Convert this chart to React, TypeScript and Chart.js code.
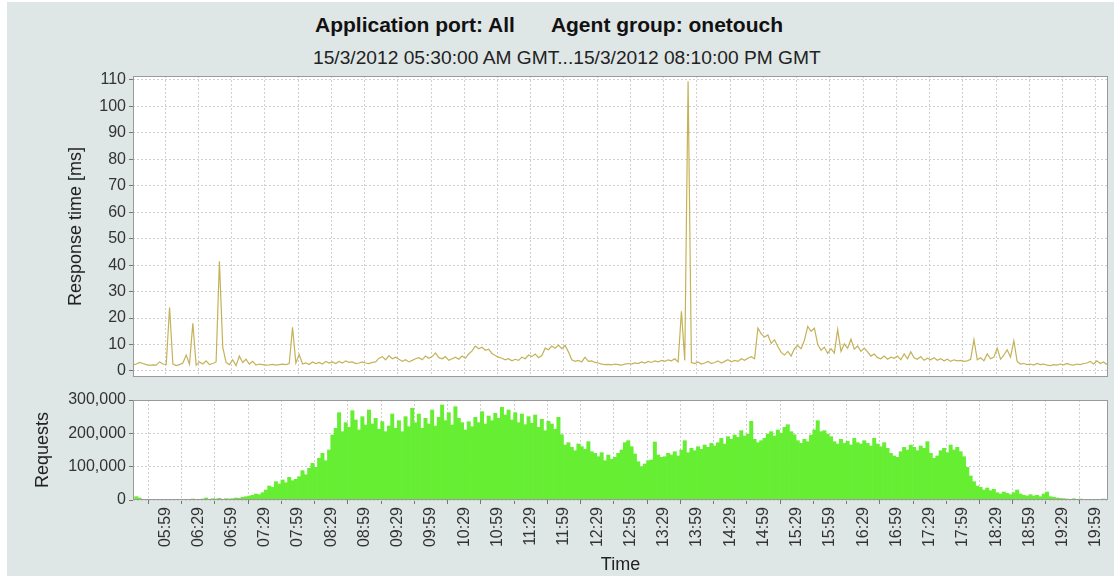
import React, { useEffect, useRef } from "react";
import { Chart, registerables } from "chart.js";

Chart.register(...registerables);

const TITLE_LEFT = "Application port: All";
const TITLE_RIGHT = "Agent group: onetouch";
const SUBTITLE = "15/3/2012 05:30:00 AM GMT...15/3/2012 08:10:00 PM GMT";
const START_TIME = "05:30";
const END_TIME = "20:10";
const SAMPLE_STEP_MIN = 3;

const TICK_LABELS = [
  "05:59", "06:29", "06:59", "07:29", "07:59", "08:29", "08:59", "09:29", "09:59", "10:29",
  "10:59", "11:29", "11:59", "12:29", "12:59", "13:29", "13:59", "14:29", "14:59", "15:29",
  "15:59", "16:29", "16:59", "17:29", "17:59", "18:29", "18:59", "19:29", "19:59",
];

const RESPONSE_TICKS = [0, 10, 20, 30, 40, 50, 60, 70, 80, 90, 100, 110];
const REQUEST_TICKS = [0, 100000, 200000, 300000];

const RESPONSE_MS = [
  2.3, 2.6, 3.2, 2.8, 2.4, 2.1, 2.3, 2.2, 3.4, 2.6,
  2.4, 24, 2.6, 2.0, 2.4, 3.0, 6.0, 2.5, 18, 2.2,
  3.4, 2.6, 3.8, 2.4, 2.8, 3.4, 41.5, 9.0, 3.2, 2.4,
  4.2, 2.0, 5.6, 3.2, 4.4, 2.6, 3.6, 2.2, 2.6, 2.4,
  2.2, 2.3, 2.5, 2.2, 2.4, 2.6, 2.4, 2.8, 16.5, 3.0,
  6.2, 2.6, 3.0, 2.4, 3.4, 2.8, 3.2, 2.6, 3.6, 3.0,
  3.4, 2.8, 3.6, 3.0, 3.8, 3.2, 3.4, 2.8, 3.0, 3.4,
  3.0, 2.8, 3.2, 3.4, 4.8, 5.4, 4.2, 5.8, 4.6, 5.2,
  4.4, 3.6, 4.2, 3.4, 4.0, 4.6, 5.0, 4.2, 5.6, 4.8,
  5.4, 6.8, 5.0, 4.6, 5.4, 4.0, 4.6, 5.2, 4.4, 5.6,
  4.8, 6.4, 7.6, 9.4, 8.4, 9.0, 7.8, 8.2, 6.6, 5.8,
  5.2, 4.8, 4.2, 4.6, 3.8, 4.4, 4.0, 5.2, 4.6, 6.0,
  5.4, 6.4, 5.0, 5.8, 8.6, 8.0, 9.4, 8.6, 9.8, 8.4,
  9.6, 7.2, 4.2, 3.6, 4.0, 3.4, 5.2, 3.6, 3.8, 3.2,
  3.0, 2.6, 2.4, 2.5, 2.3, 2.6, 2.4, 2.2, 2.6, 2.8,
  2.6, 3.0, 2.8, 3.4, 3.0, 3.6, 3.2, 3.8, 3.4, 4.0,
  3.6, 4.2, 3.8, 4.6, 3.4, 22.5, 4.0, 109.5, 3.2, 2.8,
  3.4, 2.6, 3.0, 3.6, 2.8, 3.2, 3.8, 3.0, 3.6, 4.2,
  3.4, 4.0, 3.6, 4.6, 4.0, 4.8, 5.4, 4.6, 16.2, 14.0,
  12.8, 13.6, 10.4, 11.8, 9.2, 7.0, 6.0, 7.4, 5.6, 8.4,
  9.6, 8.4, 11.6, 16.8, 15.0, 16.2, 10.0, 7.8, 9.0, 6.6,
  8.4, 6.8, 15.6, 7.4, 10.2, 8.6, 12.0, 8.2, 9.4, 7.4,
  8.6, 7.2, 5.6, 6.4, 5.0, 4.6, 5.6, 4.4, 5.2, 4.8,
  5.6, 4.2, 6.4, 4.6, 7.2, 5.0, 4.4, 5.4, 4.0, 4.8,
  4.2, 5.0, 4.0, 4.6, 3.8, 4.4, 3.6, 4.2, 3.8, 4.0,
  3.6, 3.8, 4.4, 11.8, 4.2, 5.0, 3.8, 6.4, 4.6, 5.2,
  8.6, 4.4, 6.0, 8.0, 5.2, 11.4, 3.6, 2.6, 2.8, 2.4,
  2.6, 2.2, 2.8, 2.4, 2.6, 2.2, 2.0, 2.4, 2.2, 2.6,
  2.3, 2.8, 2.4, 2.2, 2.6, 2.4, 2.8, 3.0, 3.6, 2.6,
  3.8, 2.8, 3.4, 2.4,
];

const REQUESTS = [
  3000, 10000, 6000, 2000, 1000, 1000, 0, 1000, 1000, 1000,
  1000, 1000, 0, 1000, 1000, 1000, 2000, 1000, 3000, 2000,
  2000, 3000, 6000, 2000, 4000, 3000, 5000, 2000, 4000, 3000,
  4000, 6000, 5000, 8000, 10000, 12000, 14000, 18000, 16000, 22000,
  30000, 42000, 38000, 55000, 48000, 60000, 52000, 68000, 58000, 62000,
  70000, 88000, 76000, 95000, 110000, 98000, 125000, 140000, 118000, 150000,
  195000, 215000, 262000, 205000, 232000, 218000, 268000, 240000, 210000, 250000,
  225000, 270000, 228000, 245000, 212000, 235000, 205000, 222000, 258000, 215000,
  238000, 205000, 250000, 220000, 275000, 232000, 258000, 215000, 245000, 228000,
  270000, 222000, 248000, 285000, 238000, 262000, 225000, 280000, 245000, 232000,
  210000, 235000, 220000, 248000, 232000, 265000, 228000, 252000, 238000, 260000,
  245000, 278000, 255000, 270000, 240000, 262000, 232000, 258000, 226000, 250000,
  230000, 255000, 218000, 242000, 208000, 236000, 228000, 212000, 248000, 196000,
  165000, 172000, 158000, 148000, 168000, 160000, 152000, 175000, 145000, 140000,
  130000, 142000, 118000, 135000, 122000, 128000, 140000, 150000, 172000, 178000,
  160000, 138000, 115000, 100000, 108000, 118000, 120000, 174000, 135000, 128000,
  130000, 140000, 135000, 145000, 132000, 150000, 178000, 142000, 155000, 148000,
  160000, 152000, 165000, 158000, 170000, 162000, 172000, 185000, 168000, 190000,
  182000, 195000, 188000, 208000, 192000, 198000, 236000, 182000, 172000, 178000,
  185000, 198000, 205000, 192000, 210000, 200000, 218000, 226000, 205000, 196000,
  178000, 170000, 182000, 175000, 195000, 210000, 238000, 205000, 208000, 198000,
  190000, 175000, 168000, 182000, 170000, 176000, 165000, 185000, 172000, 168000,
  178000, 170000, 162000, 185000, 168000, 160000, 172000, 155000, 140000, 132000,
  128000, 145000, 158000, 150000, 165000, 158000, 148000, 162000, 155000, 175000,
  140000, 125000, 132000, 148000, 155000, 142000, 165000, 150000, 158000, 145000,
  130000, 98000, 72000, 55000, 42000, 38000, 30000, 36000, 28000, 32000,
  22000, 18000, 24000, 20000, 16000, 22000, 30000, 18000, 14000, 12000,
  16000, 12000, 14000, 10000, 18000, 24000, 10000, 8000, 6000, 5000,
  4000, 3000, 2000, 4000, 2000, 3000, 2000, 1000, 2000, 1000,
  2000, 1000, 3000, 1000,
];

const FONT = "'Liberation Sans', Arial, sans-serif";
const BG = "#dfe6e6";
const LINE_COLOR = "#c4b258";
const BAR_COLOR = "#66ee33";
const GRID_COLOR = "#cfcfcf";

const toMin = (s: string) => {
  const [h, m] = s.split(":").map(Number);
  const [h0, m0] = START_TIME.split(":").map(Number);
  return h * 60 + m - (h0 * 60 + m0);
};

const plotFrame = {
  id: "plotFrame",
  beforeDraw(chart: any) {
    const { ctx, chartArea: a } = chart;
    ctx.save();
    ctx.fillStyle = "#ffffff";
    ctx.fillRect(a.left, a.top, a.right - a.left, a.bottom - a.top);
    ctx.restore();
  },
  afterDraw(chart: any) {
    const { ctx, chartArea: a } = chart;
    ctx.save();
    ctx.strokeStyle = "#9a9a9a";
    ctx.lineWidth = 1;
    ctx.strokeRect(a.left + 0.5, a.top + 0.5, a.right - a.left - 1, a.bottom - a.top - 1);
    ctx.restore();
  },
};

function xScale(showLabels: boolean) {
  return {
    type: "linear",
    min: 0,
    max: toMin(END_TIME),
    offset: false,
    afterBuildTicks: (s: any) => {
      s.ticks = TICK_LABELS.map((l) => ({ value: toMin(l) }));
    },
    afterFit: (s: any) => {
      s.height = showLabels ? 76 : 0;
      s.paddingLeft = 0;
      s.paddingRight = 0;
    },
    ticks: {
      display: showLabels,
      autoSkip: false,
      minRotation: 90,
      maxRotation: 90,
      padding: 3,
      color: "#333",
      font: { family: FONT, size: 16 },
      callback: (_v: any, i: number) => TICK_LABELS[i],
    },
    grid: {
      color: GRID_COLOR,
      drawTicks: showLabels,
      tickLength: 4,
      tickColor: "#777",
      tickBorderDash: [],
    },
    border: { display: false, dash: [2, 2] },
    title: {
      display: showLabels,
      text: "Time",
      color: "#222",
      font: { family: FONT, size: 18 },
      padding: { top: 0, bottom: 0 },
    },
  };
}

function yScale(min: number, max: number, ticks: number[], title: string, titlePad: number, fmt: (v: number) => string) {
  return {
    type: "linear",
    min,
    max,
    afterBuildTicks: (s: any) => {
      s.ticks = ticks.map((v) => ({ value: v }));
    },
    afterFit: (s: any) => {
      s.width = 133;
      s.paddingTop = 0;
      s.paddingBottom = 0;
    },
    ticks: {
      color: "#333",
      padding: 3,
      font: { family: FONT, size: 16 },
      callback: (v: any) => fmt(Number(v)),
    },
    grid: {
      color: GRID_COLOR,
      tickLength: 4,
      tickColor: "#777",
      tickBorderDash: [],
    },
    border: { display: false, dash: [2, 2] },
    title: {
      display: true,
      text: title,
      color: "#222",
      font: { family: FONT, size: 18 },
      padding: { top: titlePad, bottom: 0 },
    },
  };
}

export default function App() {
  const topRef = useRef<HTMLCanvasElement>(null);
  const botRef = useRef<HTMLCanvasElement>(null);

  useEffect(() => {
    const times = RESPONSE_MS.map((_, i) => i * SAMPLE_STEP_MIN);
    const respData = RESPONSE_MS.map((v, i) => ({ x: times[i], y: v }));
    const reqData = REQUESTS.map((v, i) => ({ x: i * SAMPLE_STEP_MIN, y: v }));

    const top = new Chart(topRef.current!, {
      type: "line",
      data: {
        datasets: [
          {
            label: "Response time",
            data: respData,
            borderColor: LINE_COLOR,
            borderWidth: 1.2,
            pointRadius: 0,
            tension: 0,
            fill: false,
          },
        ],
      },
      options: {
        responsive: false,
        animation: false,
        layout: { padding: { top: 12, bottom: 8, left: 0, right: 6 } },
        plugins: { legend: { display: false }, tooltip: { enabled: false } },
        scales: {
          x: xScale(false) as any,
          y: yScale(-2.3, 111.5, RESPONSE_TICKS, "Response time [ms]", 65, (v) => String(v)) as any,
        },
      },
      plugins: [plotFrame],
    });

    const bot = new Chart(botRef.current!, {
      type: "bar",
      data: {
        datasets: [
          {
            label: "Requests",
            data: reqData,
            backgroundColor: BAR_COLOR,
            borderWidth: 0,
            barPercentage: 1,
            categoryPercentage: 1,
            grouped: false,
          } as any,
        ],
      },
      options: {
        responsive: false,
        animation: false,
        layout: { padding: { top: 12, bottom: 0, left: 0, right: 6 } },
        plugins: { legend: { display: false }, tooltip: { enabled: false } },
        scales: {
          x: xScale(true) as any,
          y: yScale(0, 300000, REQUEST_TICKS, "Requests", 32, (v) => v.toLocaleString("en-US")) as any,
        },
      },
      plugins: [plotFrame],
    });

    return () => {
      top.destroy();
      bot.destroy();
    };
  }, []);

  return (
    <div style={{ position: "fixed", left: 0, top: 0, width: 1114, height: 576, background: "#ffffff", overflow: "hidden" }}>
      <div style={{ position: "absolute", left: 7, top: 2, width: 1107, height: 574, background: BG }} />
      <div
        style={{
          position: "absolute",
          left: 315,
          top: 14,
          whiteSpace: "pre",
          fontFamily: FONT,
          fontWeight: "bold",
          fontSize: 21,
          lineHeight: "21px",
          color: "#111",
        }}
      >
        <span>{TITLE_LEFT}</span>
        <span style={{ marginLeft: 36 }}>{TITLE_RIGHT}</span>
      </div>
      <div
        style={{
          position: "absolute",
          left: 313,
          top: 48,
          whiteSpace: "pre",
          fontFamily: FONT,
          fontSize: 19.2,
          lineHeight: "19px",
          color: "#222",
        }}
      >
        {SUBTITLE}
      </div>
      <canvas ref={topRef} width={1114} height={321} style={{ position: "absolute", left: 0, top: 64 }} />
      <canvas ref={botRef} width={1114} height={188} style={{ position: "absolute", left: 0, top: 388 }} />
    </div>
  );
}
